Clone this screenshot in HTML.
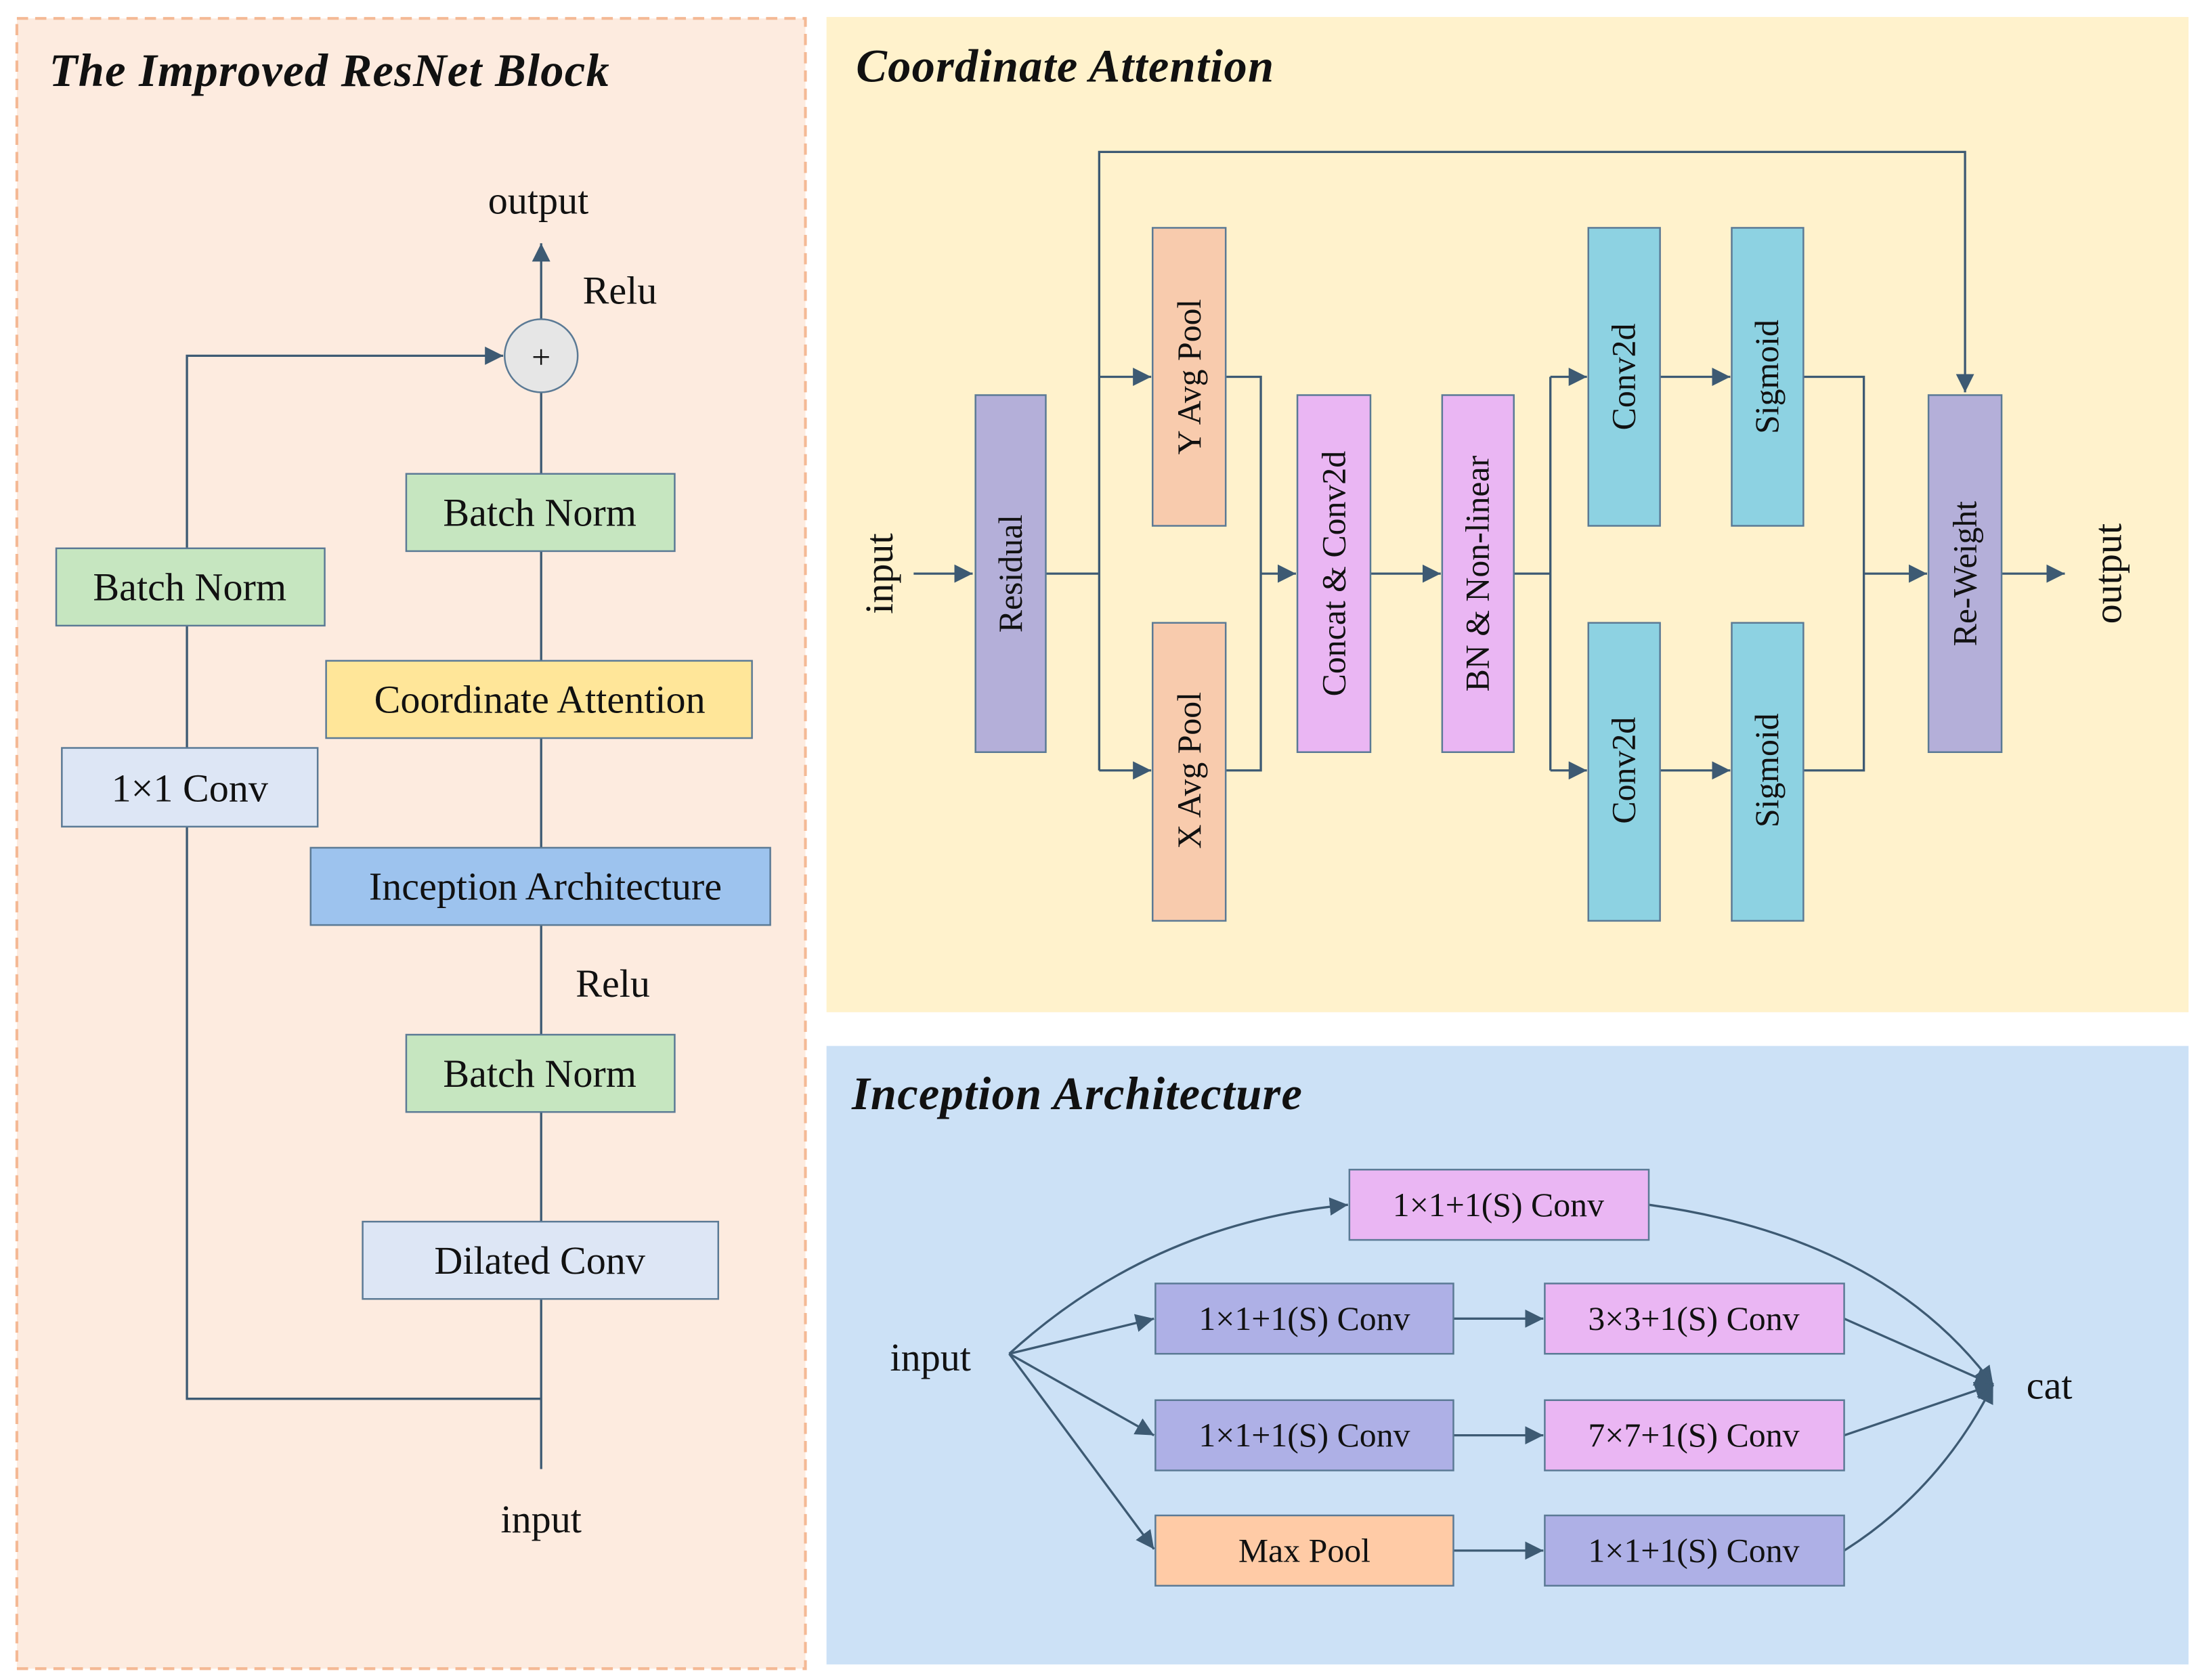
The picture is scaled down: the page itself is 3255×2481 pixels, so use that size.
<!DOCTYPE html>
<html><head><meta charset="utf-8"><style>
html,body{margin:0;padding:0;background:#fff}
svg{display:block}
text{font-family:"Liberation Serif",serif;fill:#111}
</style></head><body>
<svg width="3255" height="2481" viewBox="0 0 1568 1195" xmlns="http://www.w3.org/2000/svg">
<defs>
<marker id="a" viewBox="0 0 10 10" refX="10" refY="5" markerWidth="13" markerHeight="13" markerUnits="userSpaceOnUse" orient="auto"><path d="M0,0L10,5L0,10z" fill="#3d5a73"/></marker>
</defs>
<rect width="1568" height="1195" fill="#fff"/>
<rect x="12" y="13" width="561" height="1174" fill="#fdebdf" stroke="#f4b995" stroke-width="2" stroke-dasharray="8,5"/>
<rect x="588" y="12" width="969" height="708" fill="#fff2cc"/>
<rect x="588" y="744" width="969" height="440" fill="#cce1f6"/>
<g font-style="italic" font-weight="bold" font-size="33" letter-spacing="0.6">
<text x="35" y="61">The Improved ResNet Block</text>
<text x="609" y="58">Coordinate Attention</text>
<text x="606" y="789">Inception Architecture</text>
</g>
<g stroke="#3d5a73" stroke-width="1.6" fill="none">
<line x1="385" y1="1045" x2="385" y2="279"/>
<line x1="385" y1="227" x2="385" y2="173" marker-end="url(#a)"/>
<polyline points="385,995 133,995 133,253 358,253" marker-end="url(#a)"/>
<line x1="650" y1="408" x2="692" y2="408" marker-end="url(#a)"/>
<line x1="744" y1="408" x2="782" y2="408"/>
<polyline points="782,548 782,108 1398,108 1398,279" marker-end="url(#a)"/>
<line x1="782" y1="268" x2="819" y2="268" marker-end="url(#a)"/>
<line x1="782" y1="548" x2="819" y2="548" marker-end="url(#a)"/>
<polyline points="872,268 897,268 897,548 872,548"/>
<line x1="897" y1="408" x2="922" y2="408" marker-end="url(#a)"/>
<line x1="975" y1="408" x2="1025" y2="408" marker-end="url(#a)"/>
<line x1="1077" y1="408" x2="1103" y2="408"/>
<line x1="1103" y1="268" x2="1103" y2="548"/>
<line x1="1103" y1="268" x2="1129" y2="268" marker-end="url(#a)"/>
<line x1="1103" y1="548" x2="1129" y2="548" marker-end="url(#a)"/>
<line x1="1181" y1="268" x2="1231" y2="268" marker-end="url(#a)"/>
<line x1="1181" y1="548" x2="1231" y2="548" marker-end="url(#a)"/>
<polyline points="1283,268 1326,268 1326,548 1283,548"/>
<line x1="1326" y1="408" x2="1371" y2="408" marker-end="url(#a)"/>
<line x1="1424" y1="408" x2="1469" y2="408" marker-end="url(#a)"/>
<path d="M718,963 Q820,870 959,857" marker-end="url(#a)"/>
<line x1="718" y1="963" x2="821" y2="938" marker-end="url(#a)"/>
<line x1="718" y1="963" x2="821" y2="1021" marker-end="url(#a)"/>
<line x1="718" y1="963" x2="821" y2="1102" marker-end="url(#a)"/>
<line x1="1034" y1="938" x2="1098" y2="938" marker-end="url(#a)"/>
<line x1="1034" y1="1021" x2="1098" y2="1021" marker-end="url(#a)"/>
<line x1="1034" y1="1103" x2="1098" y2="1103" marker-end="url(#a)"/>
<path d="M1173,857 Q1340,880 1418,985" marker-end="url(#a)"/>
<line x1="1312" y1="938" x2="1418" y2="985" marker-end="url(#a)"/>
<line x1="1312" y1="1021" x2="1418" y2="985" marker-end="url(#a)"/>
<path d="M1312,1103 Q1380,1060 1418,985" marker-end="url(#a)"/>
</g>
<g stroke="#5b7a95" stroke-width="1.2">
<circle cx="385" cy="253" r="26" fill="#e6e6e6"/>
<rect x="289" y="337" width="191" height="55" fill="#c6e6c0"/>
<rect x="232" y="470" width="303" height="55" fill="#ffe699"/>
<rect x="221" y="603" width="327" height="55" fill="#9dc3ee"/>
<rect x="289" y="736" width="191" height="55" fill="#c6e6c0"/>
<rect x="258" y="869" width="253" height="55" fill="#dde6f5"/>
<rect x="40" y="390" width="191" height="55" fill="#c6e6c0"/>
<rect x="44" y="532" width="182" height="56" fill="#dde6f5"/>
<rect x="694" y="281" width="50" height="254" fill="#b4afd9"/>
<rect x="820" y="162" width="52" height="212" fill="#f8cbad"/>
<rect x="820" y="443" width="52" height="212" fill="#f8cbad"/>
<rect x="923" y="281" width="52" height="254" fill="#eab6f3"/>
<rect x="1026" y="281" width="51" height="254" fill="#eab6f3"/>
<rect x="1130" y="162" width="51" height="212" fill="#8dd2e2"/>
<rect x="1130" y="443" width="51" height="212" fill="#8dd2e2"/>
<rect x="1232" y="162" width="51" height="212" fill="#8dd2e2"/>
<rect x="1232" y="443" width="51" height="212" fill="#8dd2e2"/>
<rect x="1372" y="281" width="52" height="254" fill="#b4afd9"/>
<rect x="960" y="832" width="213" height="50" fill="#eab6f3"/>
<rect x="822" y="913" width="212" height="50" fill="#aeb0e6"/>
<rect x="1099" y="913" width="213" height="50" fill="#eab6f3"/>
<rect x="822" y="996" width="212" height="50" fill="#aeb0e6"/>
<rect x="1099" y="996" width="213" height="50" fill="#eab6f3"/>
<rect x="822" y="1078" width="212" height="50" fill="#ffcba6"/>
<rect x="1099" y="1078" width="213" height="50" fill="#aeb0e6"/>
</g>
<g font-size="28" text-anchor="middle">
<text x="383" y="152">output</text>
<text x="385" y="262" font-size="24" fill="#333">+</text>
<text x="441" y="216">Relu</text>
<text x="384" y="374">Batch Norm</text>
<text x="384" y="507">Coordinate Attention</text>
<text x="388" y="640">Inception Architecture</text>
<text x="436" y="709">Relu</text>
<text x="384" y="773">Batch Norm</text>
<text x="384" y="906">Dilated Conv</text>
<text x="135" y="427">Batch Norm</text>
<text x="135" y="570">1×1 Conv</text>
<text x="385" y="1090">input</text>
</g>
<g font-size="24" text-anchor="middle">
<text transform="translate(719,408) rotate(-90)" dy="8">Residual</text>
<text transform="translate(846,268) rotate(-90)" dy="8">Y Avg Pool</text>
<text transform="translate(846,548) rotate(-90)" dy="8">X Avg Pool</text>
<text transform="translate(949,408) rotate(-90)" dy="8">Concat &amp; Conv2d</text>
<text transform="translate(1051,408) rotate(-90)" dy="8">BN &amp; Non-linear</text>
<text transform="translate(1155,268) rotate(-90)" dy="8">Conv2d</text>
<text transform="translate(1155,548) rotate(-90)" dy="8">Conv2d</text>
<text transform="translate(1257,268) rotate(-90)" dy="8">Sigmoid</text>
<text transform="translate(1257,548) rotate(-90)" dy="8">Sigmoid</text>
<text transform="translate(1398,408) rotate(-90)" dy="8">Re-Weight</text>
<text transform="translate(626,408) rotate(-90)" dy="9" font-size="28">input</text>
<text transform="translate(1500,408) rotate(-90)" dy="9" font-size="28">output</text>
<text x="1066" y="865">1×1+1(S) Conv</text>
<text x="928" y="946">1×1+1(S) Conv</text>
<text x="1205" y="946">3×3+1(S) Conv</text>
<text x="928" y="1029">1×1+1(S) Conv</text>
<text x="1205" y="1029">7×7+1(S) Conv</text>
<text x="928" y="1111">Max Pool</text>
<text x="1205" y="1111">1×1+1(S) Conv</text>
<text x="662" y="975" font-size="28">input</text>
<text x="1458" y="995" font-size="28">cat</text>
</g>
</svg>
</body></html>
